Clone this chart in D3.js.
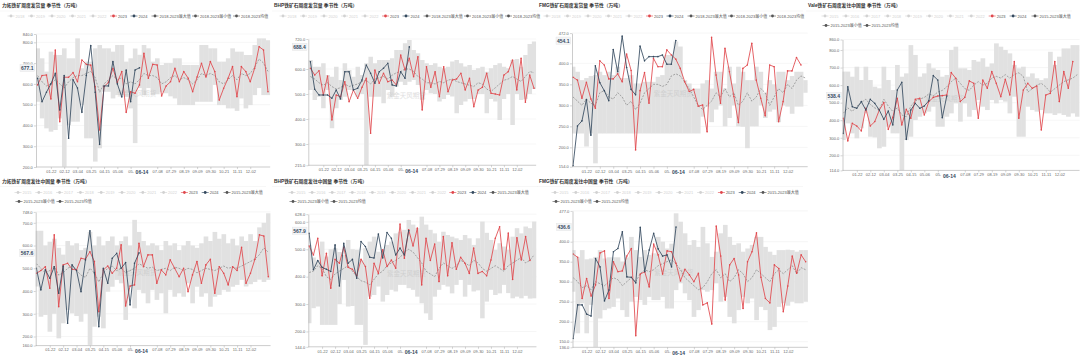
<!DOCTYPE html>
<html><head><meta charset="utf-8">
<script src="https://cdn.jsdelivr.net/npm/d3@7"></script>
<style>body{margin:0;background:#fff;} svg{display:block;} text{font-family:"Liberation Sans","Noto Sans CJK SC",sans-serif;}</style>
</head><body><script>
// ---------- shared axis labels ----------
const weekTickIdx = [3,6,9,12,15,18,21,27,30,33,36,39,42,45,48];
const weekTickLabels = ["01-22","02-12","03-04","03-25","04-15","05-06","05-","07-08","07-29","08-19","09-09","09-30","10-21","11-11","12-02"];
const currentDateLabel = "06-14";
const currentDateIdx = 23.57;
const yearsA = ["2018","2019","2020","2021","2022","2023","2024"];
const statsA = ["2018-2023最大值","2018-2023最小值","2018-2023均值"];
const yearsB = ["2015","2016","2017","2018","2019","2020","2021","2022","2023","2024"];
const statsB = ["2015-2023最大值","2015-2023最小值","2015-2023均值"];

// ---------- 力拓 发货量 ----------
const rioShip2023 = [595,640,643,527,763,418,632,632,654,610,715,694,690,586,378,587,607,675,607,659,463,562,555,595,747,627,694,691,542,590,610,675,610,659,627,562,633,699,633,707,659,522,579,627,683,538,683,659,610,675,779,763,562];
const rioShip2024 = [627,514,560,600,651,474,640,338,620,580,463,640,784,560,309,590,590,707,600,537,667,514,667,677.1];
const rioShipMax = [771,723,659,755,739,739,771,723,723,819,675,707,707,771,787,771,771,755,787,787,707,723,770,740,787,771,707,723,691,700,700,723,723,691,691,691,691,787,787,771,771,707,707,723,771,755,755,739,739,787,819,819,810];
const rioShipMin = [514,434,386,370,378,434,202,402,418,418,498,338,338,226,290,562,562,530,546,546,540,482,315,580,546,580,546,550,560,555,540,530,498,498,498,498,514,514,514,514,595,498,498,482,482,470,530,482,498,546,580,546,546];
const rioShipMean = [640,610,590,600,620,600,580,610,630,640,640,650,660,630,560,600,620,640,620,630,600,610,600,620,650,640,640,630,600,610,630,640,620,630,620,600,620,650,640,650,640,610,600,620,640,620,650,640,650,680,720,700,660];
const rioShipTicks = [200,300,400,500,600,700,800,840];

// ---------- BHP 发货量 ----------
const bhpShip2023 = [603,576,593,496,572,396,496,489,549,469,516,483,527,563,343,596,543,583,549,556,536,656,596,643,569,649,436,609,527,589,489,609,509,556,560,583,516,563,449,516,527,583,503,500,496,576,589,636,516,643,467,576,523];
const bhpShip2024 = [629,519,496,496,496,483,516,480,589,589,516,523,556,616,583,543,589,603,623,536,532,589,563,688.4];
const bhpShipMax = [636,609,609,623,576,569,609,556,623,596,569,609,576,623,649,623,636,636,636,643,676,676,703,716,676,663,636,623,616,623,609,603,609,630,636,623,610,616,596,603,609,589,603,616,623,609,603,636,640,609,656,700,710];
const bhpShipMin = [516,476,489,443,516,363,443,476,489,516,516,489,500,215,489,489,489,463,516,489,530,549,536,549,556,536,476,516,503,500,470,480,496,490,423,456,470,480,480,500,500,423,480,470,396,480,500,376,500,476,480,500,520];
const bhpShipMean = [570,560,545,535,545,530,520,525,540,530,535,540,550,555,540,560,565,570,560,575,585,590,600,600,590,570,560,545,545,540,550,545,555,560,550,545,540,535,530,545,540,520,510,525,540,555,560,570,560,550,570,590,585];
const bhpShipTicks = [215,300,400,500,600,720];

// ---------- FMG 发货量 ----------
const fmgShip2023 = [367,360,317,355,315,293,406,396,363,363,375,356,422,383,194,335,378,305,412,392,392,432,420,410,388,356,333,338,298,301,237,462,372,305,436,380,321,259,388,396,448,360,317,275,396,392,261,309,382,382,414,396];
const fmgShip2024 = [156,251,263,314,229,394,354,335,311,433,380,465,390,338,325,441,406,416,416,416,420,398,398,454.1];
const fmgShipMax = [392,380,360,365,370,372,380,372,380,372,392,365,365,372,352,352,356,356,356,368,372,420,420,452,440,360,352,340,340,352,360,340,380,380,340,392,352,392,380,360,360,392,380,330,360,350,380,380,360,370,380,380,360];
const fmgShipMin = [233,233,233,202,233,162,233,233,233,233,233,233,233,233,233,233,233,233,233,233,233,233,233,233,233,233,233,233,233,273,297,260,290,300,250,270,300,250,249,198,250,250,300,270,285,290,260,300,297,280,297,297,330];
const fmgShipMean = [320,310,300,315,305,300,330,335,320,315,330,320,300,310,290,305,330,340,350,350,345,350,370,375,370,355,340,320,300,290,300,310,330,320,340,320,330,300,310,330,310,320,340,330,300,320,340,330,350,340,360,370,365];
const fmgShipTicks = [154,200,250,300,350,400,472];

// ---------- Vale 发往中国 ----------
const valeChina2023 = [411,282,382,367,339,468,367,392,458,500,348,416,525,373,462,411,519,525,430,506,530,538,540,544,671,639,506,530,624,610,411,629,582,677,610,534,633,544,734,411,572,610,582,595,344,544,553,734,506,677,582,734];
const valeChina2024 = [325,591,477,468,506,458,519,496,458,405,452,373,572,616,291,458,496,468,481,511,654,629,414,538.4];
const valeChinaMax = [677,677,648,705,629,705,629,591,582,705,629,572,715,648,667,828,772,648,667,724,696,686,648,658,800,819,696,696,686,743,734,753,705,724,838,819,800,781,715,696,705,648,667,639,629,639,790,715,762,809,809,828,828];
const valeChinaMin = [287,382,325,297,354,439,306,302,240,249,363,325,325,114,287,306,401,420,439,449,477,363,363,420,439,496,392,496,420,458,515,477,458,515,496,515,506,439,534,306,306,477,458,449,458,439,439,430,439,430,420,439,420];
const valeChinaMean = [440,470,450,480,500,520,490,470,460,520,480,450,470,430,420,480,510,520,530,550,540,560,570,590,620,640,610,580,570,600,620,600,610,640,650,640,660,640,660,670,650,560,580,600,610,590,560,580,600,620,630,640,660];
const valeChinaTicks = [114,200,300,400,500,600,700,800,860];

// ---------- 力拓 发往中国 ----------
const rioChina2023 = [478,490,507,412,647,331,515,522,496,493,544,540,573,530,309,493,510,478,500,603,334,422,427,610,507,559,559,434,493,471,537,500,463,500,397,471,530,434,515,540,390,507,478,427,507,490,592,434,478,540,647,642,463];
const rioChina2024 = [500,405,493,456,507,390,510,258,515,490,397,537,665,480,243,500,434,544,566,500,525,339,522,567.6];
const rioChinaMax = [665,665,600,617,630,590,560,620,600,610,580,590,660,600,640,600,620,640,600,620,640,600,713,660,620,600,610,600,580,620,600,610,580,600,620,600,590,610,640,620,660,630,650,610,630,600,640,620,650,620,680,700,742];
const rioChinaMin = [420,287,295,221,300,192,258,317,302,290,265,300,163,243,287,236,397,419,449,434,273,419,324,405,390,346,405,361,390,302,405,375,390,375,434,346,419,375,390,331,375,383,405,397,419,427,449,420,430,440,450,440,449];
const rioChinaMean = [520,500,480,490,510,470,480,500,510,490,470,460,500,480,440,480,500,510,490,500,480,490,500,520,510,500,505,490,495,500,490,505,500,490,500,495,480,490,500,495,490,500,510,500,505,500,510,520,530,540,560,590,570];
const rioChinaTicks = [160,200,300,400,500,600,700,748];

// ---------- BHP 发往中国 ----------
const bhpChina2023 = [512,479,540,403,485,358,463,449,507,434,427,403,463,437,321,449,412,498,437,461,431,592,467,571,512,577,370,540,459,519,382,546,403,524,427,471,449,412,504,412,419,403,461,540,582,427,559,390,542,461,546,459];
const bhpChina2024 = [558,425,459,434,427,419,516,366,522,449,463,394,528,510,471,468,556,468,561,540,479,504,479,567.9];
const bhpChinaMax = [516,470,459,528,473,500,504,490,479,534,500,498,461,504,528,546,491,498,516,528,558,564,571,607,590,577,619,590,571,558,528,564,552,546,540,534,552,540,516,540,601,560,534,498,522,510,498,546,577,558,583,577,601];
const bhpChinaMin = [230,285,291,224,224,224,224,300,388,291,293,224,224,151,327,333,364,309,333,352,346,370,370,358,352,327,303,266,242,327,352,370,364,339,370,388,327,370,346,350,248,309,352,333,339,370,340,321,327,321,330,320,321];
const bhpChinaMean = [415,420,440,430,400,390,410,420,430,440,420,400,385,380,370,390,410,420,440,450,460,470,490,500,490,470,450,420,410,400,430,450,440,430,440,460,450,440,460,450,430,420,430,440,430,420,440,450,460,470,450,460,480];
const bhpChinaTicks = [144,200,300,400,500,600,628];

// ---------- FMG 发往中国 ----------
const fmgChina2023 = [369,361,258,308,264,292,372,377,258,350,325,327,364,383,165,319,325,287,394,367,319,377,375,346,302,331,317,300,321,242,247,194,439,364,254,342,358,317,233,350,375,422,311,258,247,342,333,225,289,364,321,367,350];
const fmgChina2024 = [158,242,242,219,214,358,337,252,279,375,383,425,312,311,297,436,325,379,421,382,364,367,337,436.6];
const fmgChinaMax = [379,361,379,356,358,362,379,358,361,361,361,350,361,412,379,362,379,367,371,412,400,383,395,471,450,421,392,404,387,437,396,362,375,421,442,412,392,396,375,383,392,412,412,387,375,367,379,379,380,379,375,379,379];
const fmgChinaMin = [275,171,246,171,242,137,208,229,233,237,258,229,212,250,262,254,242,262,254,254,262,233,233,279,296,271,254,212,229,279,275,279,296,250,262,212,196,229,262,246,258,204,237,229,179,187,237,246,240,250,246,246,250];
const fmgChinaMean = [310,300,285,290,280,300,295,290,300,310,305,290,300,310,300,320,330,325,330,340,345,350,355,345,330,310,300,290,280,285,300,320,330,310,320,300,310,330,320,300,310,330,320,310,300,320,330,320,330,340,320,335,330];
const fmgChinaTicks = [136,150,200,250,300,350,400,477];

// ---------- layout ----------
const panels = [
 {title:"力拓铁矿周度发货量 季节性（万吨）", tx:2, ty:5.5, lt:"A", lx:11, ly:16, axisX:36, wk0:37.6, step:4.43, top:34, bottom:167, lo:200, hi:840,
  s23:rioShip2023, s24:rioShip2024, mx:rioShipMax, mn:rioShipMin, mean:rioShipMean, ticks:rioShipTicks},
 {title:"BHP铁矿石周度发货量 季节性（万吨）", tx:274, ty:5.5, lt:"A", lx:283, ly:16, axisX:308.3, wk0:310.4, step:4.30, top:39, bottom:165.25, lo:215, hi:720,
  s23:bhpShip2023, s24:bhpShip2024, mx:bhpShipMax, mn:bhpShipMin, mean:bhpShipMean, ticks:bhpShipTicks},
 {title:"FMG铁矿石周度发货量 季节性（万吨）", tx:539, ty:5.5, lt:"A", lx:547, ly:16, axisX:572, wk0:573, step:4.47, top:33.1, bottom:166.7, lo:154, hi:472,
  s23:fmgShip2023, s24:fmgShip2024, mx:fmgShipMax, mn:fmgShipMin, mean:fmgShipMean, ticks:fmgShipTicks},
 {title:"Vale铁矿石周度发往中国量 季节性（万吨）", tx:808, ty:5.5, lt:"B", lx:825, ly:16, ly2:25.5, ystep:20.9, soff:210, axisX:842.5, wk0:843.3, step:4.5, top:39.5, bottom:170.4, lo:114, hi:860,
  s23:valeChina2023, s24:valeChina2024, mx:valeChinaMax, mn:valeChinaMin, mean:valeChinaMean, ticks:valeChinaTicks},
 {title:"力拓铁矿周度发往中国量 季节性（万吨）", tx:2, ty:181, lt:"B", lx:18, ly:192.5, ly2:201.5, ystep:20.8, soff:209, axisX:35.7, wk0:36.4, step:4.46, top:211.9, bottom:345.6, lo:160, hi:748,
  s23:rioChina2023, s24:rioChina2024, mx:rioChinaMax, mn:rioChinaMin, mean:rioChinaMean, ticks:rioChinaTicks},
 {title:"BHP铁矿石周度发往中国量 季节性（万吨）", tx:274, ty:181, lt:"B", lx:292, ly:192.5, ly2:201.5, ystep:20.1, soff:201, axisX:308.3, wk0:309.1, step:4.33, top:214.2, bottom:346.8, lo:144, hi:628,
  s23:bhpChina2023, s24:bhpChina2024, mx:bhpChinaMax, mn:bhpChinaMin, mean:bhpChinaMean, ticks:bhpChinaTicks},
 {title:"FMG铁矿石周度发往中国量 季节性（万吨）", tx:539, ty:181, lt:"B", lx:555, ly:192.5, ly2:201.5, ystep:20.8, soff:208, axisX:572.5, wk0:573.2, step:4.47, top:210.9, bottom:347.3, lo:136, hi:477,
  s23:fmgChina2023, s24:fmgChina2024, mx:fmgChinaMax, mn:fmgChinaMin, mean:fmgChinaMean, ticks:fmgChinaTicks}
];

const RED = "#e0474c", NAVY = "#34495e", FADE = "#d2d2d2", STAT = "#555", BAND = "#e1e1e1";

const svg = d3.select("body").append("svg").attr("width",1080).attr("height",356);
svg.append("rect").attr("width",1080).attr("height",356).attr("fill","#fff");
const defs = svg.append("defs");

function legendItem(g, cx, cy, color, label, tcolor){
  g.append("line").attr("x1",cx-3.5).attr("x2",cx+3.5).attr("y1",cy).attr("y2",cy).attr("stroke",color).attr("stroke-width",0.6);
  g.append("circle").attr("cx",cx).attr("cy",cy).attr("r",1.4).attr("fill",color);
  g.append("text").attr("x",cx+4.5).attr("y",cy).attr("dominant-baseline","central").attr("font-size",4).attr("fill",tcolor).text(label);
}

panels.forEach((p,pi)=>{
  const g = svg.append("g");
  const x = d3.scaleLinear().domain([0,52]).range([p.wk0, p.wk0+52*p.step]);
  const y = d3.scaleLinear().domain([p.lo,p.hi]).range([p.bottom,p.top]);
  const right = x(52)+p.step/2;

  // title
  g.append("text").attr("x",p.tx).attr("y",p.ty).attr("dominant-baseline","central")
   .attr("font-size",4.8).attr("font-weight","bold").attr("fill","#333").text(p.title);
  g.append("line").attr("x1",p.tx-2).attr("x2",p.tx+264).attr("y1",p.ty+5.5).attr("y2",p.ty+5.5).attr("stroke","#eee").attr("stroke-width",0.5);

  // legend
  const lg = g.append("g");
  if(p.lt==="A"){
    yearsA.forEach((yr,i)=>{
      const c = yr==="2023"?RED:(yr==="2024"?NAVY:FADE);
      legendItem(lg, p.lx+i*20.5, p.ly, c, yr, (yr==="2023"||yr==="2024")?"#555":FADE);
    });
    [144,184.5,225.5].forEach((o,i)=>legendItem(lg, p.lx+o, p.ly, STAT, statsA[i], "#555"));
  } else {
    yearsB.forEach((yr,i)=>{
      const c = yr==="2023"?RED:(yr==="2024"?NAVY:FADE);
      legendItem(lg, p.lx+i*p.ystep, p.ly, c, yr, (yr==="2023"||yr==="2024")?"#555":FADE);
    });
    legendItem(lg, p.lx+p.soff, p.ly, STAT, statsB[0], "#555");
    legendItem(lg, p.lx+1, p.ly2, STAT, statsB[1], "#555");
    legendItem(lg, p.lx+42, p.ly2, STAT, statsB[2], "#555");
  }

  // grid
  g.append("g").selectAll("line").data(p.ticks.filter(t=>t!==p.lo)).join("line")
   .attr("x1",p.axisX).attr("x2",right).attr("y1",d=>y(d)).attr("y2",d=>y(d))
   .attr("stroke","#ececec").attr("stroke-width",0.5);

  // clip
  const cid = "clip"+pi;
  defs.append("clipPath").attr("id",cid).append("rect")
    .attr("x",p.axisX).attr("y",p.top-2).attr("width",right-p.axisX).attr("height",p.bottom-p.top+2);
  const pg = g.append("g").attr("clip-path",`url(#${cid})`);

  // min-max band bars
  pg.append("g").selectAll("rect").data(p.mx.map((m,i)=>({i,max:m,min:p.mn[i]}))).join("rect")
    .attr("x",d=>x(d.i)-p.step/2).attr("width",p.step+0.2)
    .attr("y",d=>y(d.max)).attr("height",d=>y(d.min)-y(d.max)).attr("fill",BAND);

  // watermark
  pg.append("text").attr("x",p.axisX+0.43*(right-p.axisX)).attr("y",p.top+0.45*(p.bottom-p.top))
    .attr("text-anchor","middle").attr("dominant-baseline","central").attr("font-size",6.5)
    .attr("fill","#bbb").attr("opacity",0.45).text("紫金天风期货");

  const line = d3.line().x((d,i)=>x(i)).y(d=>y(d));
  // mean dashed
  pg.append("path").attr("d",line(p.mean)).attr("fill","none").attr("stroke","#8c8c8c")
    .attr("stroke-width",0.75).attr("stroke-dasharray","2,1.3");

  // 2023 & 2024
  [[p.s23,RED],[p.s24,NAVY]].forEach(([s,c])=>{
    pg.append("path").attr("d",line(s)).attr("fill","none").attr("stroke",c).attr("stroke-width",0.85);
    pg.append("g").selectAll("circle").data(s).join("circle")
      .attr("cx",(d,i)=>x(i)).attr("cy",d=>y(d)).attr("r",0.8).attr("fill",c);
  });

  // y axis
  const ya = g.append("g").attr("transform",`translate(${p.axisX},0)`)
    .call(d3.axisLeft(y).tickValues(p.ticks).tickFormat(d3.format(".1f")).tickSize(2).tickSizeOuter(0).tickPadding(1.2));
  ya.attr("font-size",4).attr("font-family",null);
  ya.select(".domain").attr("stroke","#aaa").attr("stroke-width",0.6);
  ya.selectAll(".tick line").attr("stroke","#aaa").attr("stroke-width",0.5);
  ya.selectAll(".tick text").attr("fill","#666");

  // x axis
  g.append("line").attr("x1",p.axisX).attr("x2",right).attr("y1",p.bottom).attr("y2",p.bottom).attr("stroke","#aaa").attr("stroke-width",0.6);
  const xa = g.append("g").attr("transform",`translate(0,${p.bottom})`)
    .call(d3.axisBottom(x).tickValues(weekTickIdx).tickFormat((d,i)=>weekTickLabels[i]).tickSize(2).tickSizeOuter(0).tickPadding(1));
  xa.attr("font-size",4).attr("font-family",null);
  xa.select(".domain").remove();
  xa.selectAll(".tick line").attr("stroke","#aaa").attr("stroke-width",0.5);
  xa.selectAll(".tick text").attr("fill","#666");
  g.append("text").attr("x",x(currentDateIdx)).attr("y",p.bottom+5.4).attr("text-anchor","middle")
    .attr("dominant-baseline","central").attr("font-size",5).attr("font-weight","bold").attr("fill",NAVY).text(currentDateLabel);

  // current value label
  const cur = p.s24[p.s24.length-1];
  const lblG = g.append("g");
  const t = lblG.append("text").attr("x",p.axisX-2.5).attr("y",y(cur)).attr("text-anchor","end")
    .attr("dominant-baseline","central").attr("font-size",5).attr("font-weight","bold").attr("fill",NAVY)
    .text(d3.format(".1f")(cur));
  const bb = t.node().getBBox();
  lblG.insert("rect","text").attr("x",bb.x-1).attr("y",bb.y-0.6).attr("width",bb.width+2).attr("height",bb.height+1.2)
    .attr("fill","#f3f4f6").attr("stroke","#d8d8d8").attr("stroke-width",0.3);
});
</script></body></html>
